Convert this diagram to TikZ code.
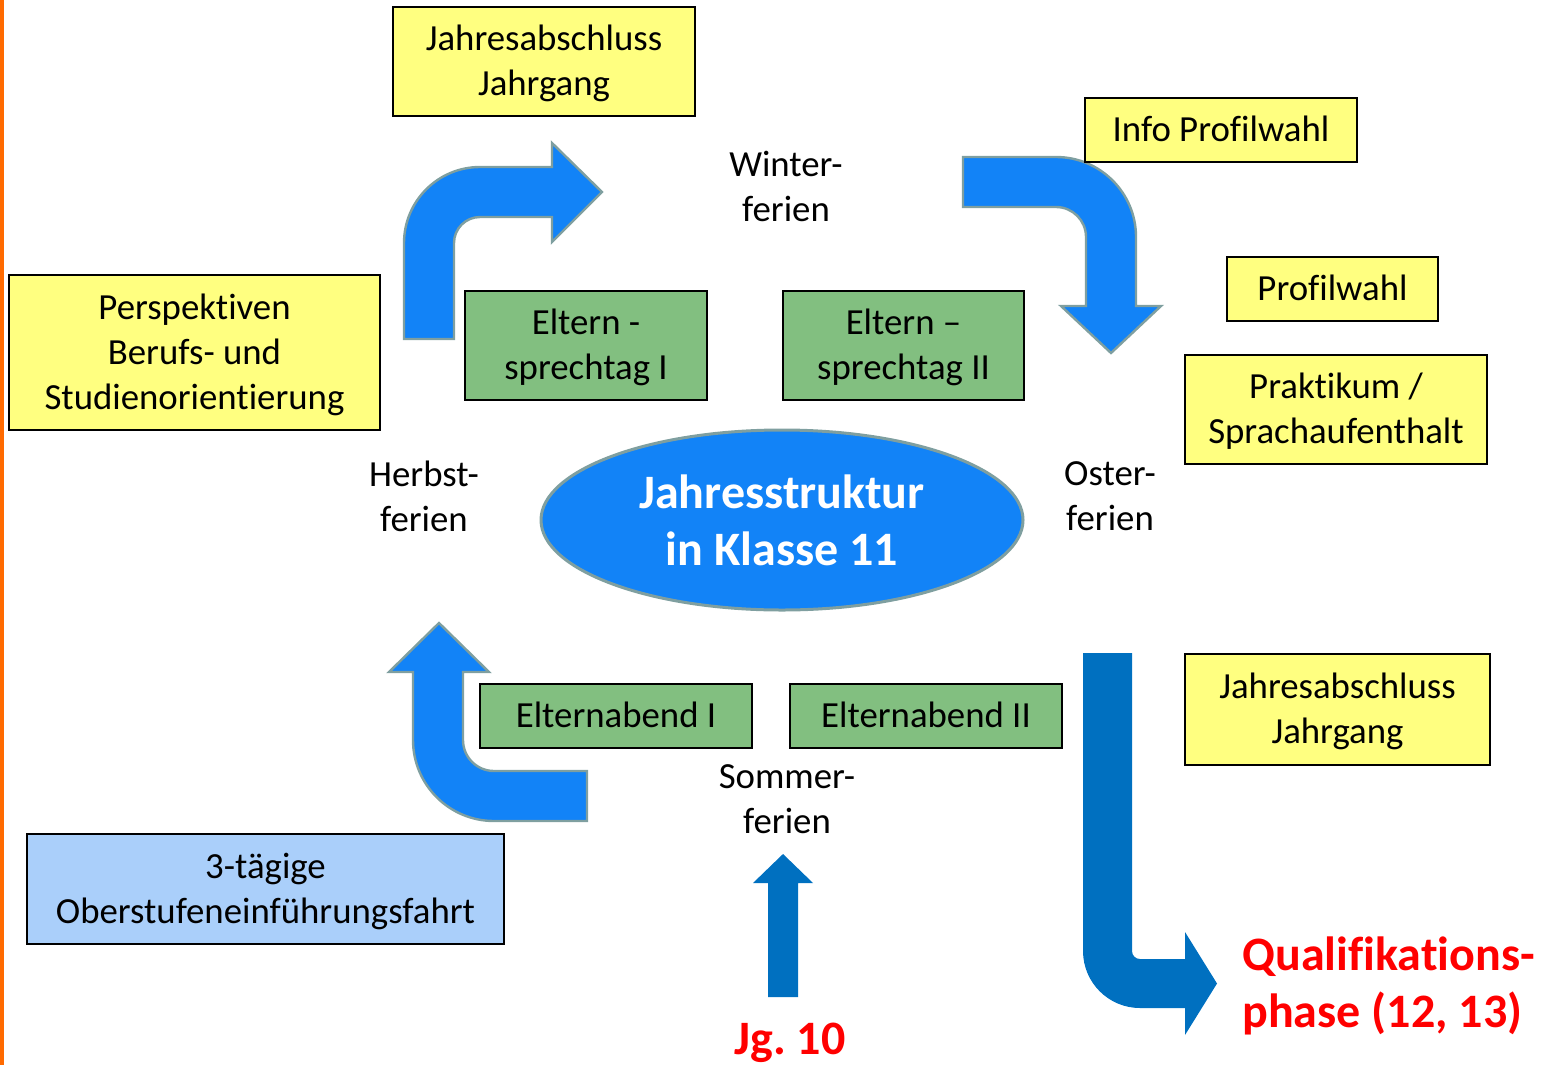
\documentclass[tikz,border=0pt]{standalone}
\usepackage{fontspec}
\setmainfont{Carlito}[Ligatures={TeX,NoCommon,NoContextual}]
\usetikzlibrary{shapes.geometric}
\frenchspacing
\definecolor{yfill}{HTML}{FFFF80}
\definecolor{gfill}{HTML}{82BF80}
\definecolor{bfill}{HTML}{AACFFA}
\definecolor{lblue}{HTML}{1283F7}
\definecolor{dblue}{HTML}{0070C0}
\definecolor{arrline}{HTML}{7F9FA0}
\definecolor{qred}{HTML}{FF0000}
\definecolor{orstrip}{HTML}{FF6A00}
\newcommand{\normtext}{\fontsize{18.4}{22.5}\selectfont}
\newcommand{\bigbold}{\fontsize{24}{28.5}\selectfont\bfseries}
\newcommand{\nolig}{\kern0pt }
\tikzset{
  boxbase/.style={draw=black, line width=1pt, inner sep=0pt, outer sep=0pt, align=center, font=\normtext, text depth=0.8pt},
  yellowbox/.style={boxbase, fill=yfill},
  greenbox/.style={boxbase, fill=gfill},
  bluebox/.style={boxbase, fill=bfill},
  lbl/.style={inner sep=0pt, align=center, font=\normtext},
  bentarrow/.style={fill=lblue, draw=arrline, line width=1.2pt, line join=miter},
  darkarrow/.style={fill=dblue, draw=none},
  redtxt/.style={inner sep=0pt, text=qred, font=\bigbold}
}
\begin{document}
\begin{tikzpicture}[x=0.5pt,y=-0.5pt]
\useasboundingbox (0,0) rectangle (1550,1065);
\fill[orstrip] (0,0) rectangle (4,1065);

% arrows (px coordinates, y downward)
\path[bentarrow] (404,339) -- (404,243) arc[start angle=180, end angle=270, radius=76]
  -- (552,167) -- (552,143) -- (602,192) -- (552,242) -- (552,217) -- (480,217)
  arc[start angle=270, end angle=180, radius=26] -- (454,339) -- cycle;
\path[bentarrow] (963,157) -- (1056,157) arc[start angle=270, end angle=360, radius=80]
  -- (1136,306) -- (1161,306) -- (1111,353) -- (1061,306) -- (1086,306) -- (1086,237)
  arc[start angle=0, end angle=-90, radius=30] -- (963,207) -- cycle;
\path[bentarrow] (587,771) -- (494,771) arc[start angle=90, end angle=180, radius=31]
  -- (463,672) -- (489,672) -- (439,623) -- (389,672) -- (413,672) -- (413,740)
  arc[start angle=180, end angle=90, radius=81] -- (587,821) -- cycle;
\path[darkarrow] (1083,653) -- (1083,951) arc[start angle=180, end angle=90, radius=57]
  -- (1185,1008) -- (1185,1035) -- (1217,983.5) -- (1185,932) -- (1185,959) -- (1140,959)
  arc[start angle=90, end angle=180, radius=8] -- (1132,653) -- cycle;
\path[darkarrow] (768,997) -- (768,883) -- (753,883) -- (783,854) -- (813,883) -- (798,883) -- (798,997) -- cycle;

% boxes
\node[yellowbox, minimum width=151pt, minimum height=54.5pt] (jab1) at (544,61.5) {Jahresabschluss\\Jahrgang};
\node[yellowbox, minimum width=136pt, minimum height=32pt] (info) at (1221,130) {Info Prof\nolig ilwahl};
\node[yellowbox, minimum width=105.5pt, minimum height=32pt] (profil) at (1332.5,289) {Prof\nolig ilwahl};
\node[yellowbox, minimum width=151pt, minimum height=54.5pt] (prakt) at (1336,409.5) {Praktikum /\\Sprachaufenthalt};
\node[yellowbox, minimum width=185.5pt, minimum height=77.5pt] (persp) at (194.5,352.5) {Perspektiven\\Berufs- und\\Studienorient\nolig ierung};
\node[yellowbox, minimum width=152.5pt, minimum height=55.5pt] (jab2) at (1337.5,709.5) {Jahresabschluss\\Jahrgang};
\node[greenbox, minimum width=121pt, minimum height=54.5pt] (est1) at (586,345.5) {Eltern -\\sprechtag I};
\node[greenbox, minimum width=120.5pt, minimum height=54.5pt] (est2) at (903.5,345.5) {Eltern –\\sprechtag II};
\node[greenbox, minimum width=136pt, minimum height=32pt] (eab1) at (616,716) {Elternabend I};
\node[greenbox, minimum width=136pt, minimum height=32pt] (eab2) at (926,716) {Elternabend II};
\node[bluebox, minimum width=238.5pt, minimum height=55pt] (fahrt) at (265.5,889) {3-tägige\\Oberstufeneinführungsfahrt};

% ellipse
\node[ellipse, fill=lblue, draw=arrline, line width=1.5pt, minimum width=241pt, minimum height=90pt,
  inner sep=0pt, align=center, text=white, font=\bigbold] (center) at (782,520) {Jahresstruktur\\in Klasse 11};

% holiday labels
\node[lbl] (winter) at (786,186.5) {Winter-\\ferien};
\node[lbl] (herbst) at (424,496.5) {Herbst-\\ferien};
\node[lbl] (oster) at (1110,496.5) {Oster-\\ferien};
\node[lbl] (sommer) at (787,799) {Sommer-\\ferien};

% red texts
\node[redtxt, anchor=west, align=left] (quali) at (1242,985.5) {Qualif\nolig ikat\nolig ions-\\phase (12, 13)};
\node[redtxt, anchor=base] (jg) at (790,1054) {Jg. 10};
\end{tikzpicture}
\end{document}
